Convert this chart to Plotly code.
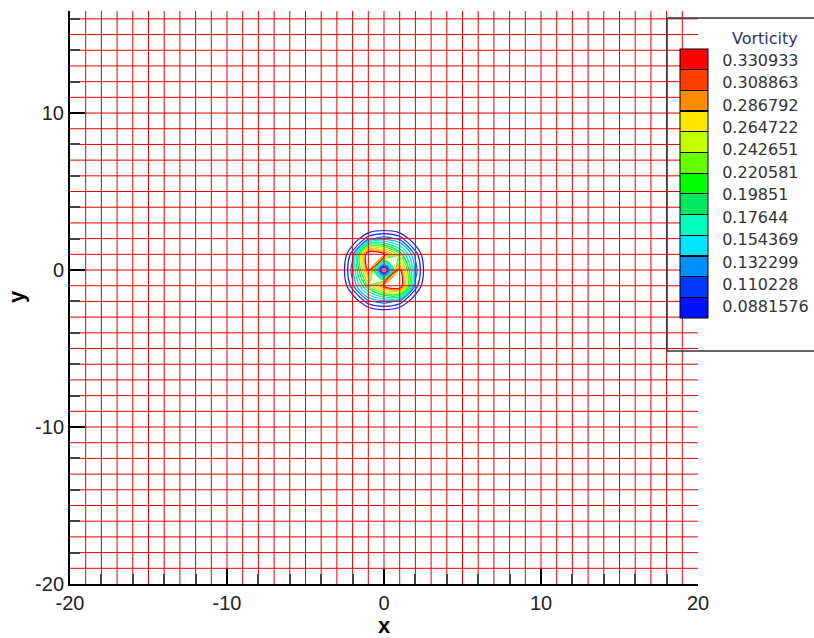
import plotly.graph_objects as go

# ---------------- data ----------------
# vorticity sampled on mesh nodes x,y = -4..4 (rows: y from -4 to 4)
node_x = [-4, -3, -2, -1, 0, 1, 2, 3, 4]
node_y = [-4, -3, -2, -1, 0, 1, 2, 3, 4]
vorticity = [
    [0, 0.000, 0.000, 0.000, 0.000, 0.000, 0.000, 0.000, 0],
    [0, 0.000, 0.010, 0.025, 0.035, 0.025, 0.010, 0.000, 0],
    [0, 0.010, 0.060, 0.125, 0.145, 0.125, 0.060, 0.010, 0],
    [0, 0.025, 0.125, 0.240, 0.335, 0.370, 0.125, 0.025, 0],
    [0, 0.035, 0.145, 0.335, 0.030, 0.335, 0.145, 0.035, 0],
    [0, 0.025, 0.125, 0.370, 0.335, 0.240, 0.125, 0.025, 0],
    [0, 0.010, 0.060, 0.125, 0.145, 0.125, 0.060, 0.010, 0],
    [0, 0.000, 0.010, 0.025, 0.035, 0.025, 0.010, 0.000, 0],
    [0, 0.000, 0.000, 0.000, 0.000, 0.000, 0.000, 0.000, 0],
]

# contour levels and their legend labels
levels = [0.0881576, 0.110228, 0.132299, 0.154369, 0.17644, 0.19851,
          0.220581, 0.242651, 0.264722, 0.286792, 0.308863, 0.330933]
level_labels = ["0.0881576", "0.110228", "0.132299", "0.154369", "0.17644", "0.19851",
                "0.220581", "0.242651", "0.264722", "0.286792", "0.308863", "0.330933"]
level_start = 0.0881576
level_step = 0.0220705
level_end = 0.3309331

# computational mesh lines
mesh_x_lines = list(range(-19, 20))
mesh_y_lines = list(range(-19, 20))
mesh_extent = [-20, 20]

x_ticks = [-20, -10, 0, 10, 20]
x_tick_text = ["-20", "-10", "0", "10", "20"]
y_ticks = [-20, -10, 0, 10]
y_tick_text = ["-20", "-10", "0", "10"]

# ---------------- styles ----------------
band_colors = ["#0010ff", "#0038ff", "#0090ff", "#00e5ff", "#00ffbf", "#00e860",
               "#00ff00", "#66ff00", "#c0ff00", "#ffe600", "#ff8c00", "#ff4000", "#ff0000"]
line_colors = ["#1818ff", "#0040ff", "#0090ff", "#00d8ff", "#00ffc0", "#00f070",
               "#10ff00", "#80ff00", "#d8f000", "#ffc000", "#ff7000", "#ff0000"]
FONT = "Liberation Sans, Arial, sans-serif"
LEGFONT = "DejaVu Sans, sans-serif"

# plot area in pixels
L, R, T, B = 70, 698, 11, 584
PW, PH = R - L, B - T


def px_x(p):
    return (p - L) / PW


def px_y(p):
    return (B - p) / PH


# colorscale for contour lines (plotly maps level k to (k+0.5)/(n-1))
n = len(levels)
line_cs = [[0.0, line_colors[0]]]
for k in range(n - 1):
    line_cs.append([(k + 0.5) / (n - 1), line_colors[k]])
line_cs.append([1.0, line_colors[-1]])

# stepped colorscale for legend bar with black separators
nb = len(band_colors)
e = 0.0022
bar_cs = [[0.0, band_colors[0]]]
for j in range(1, nb):
    b = j / nb
    bar_cs += [[b - e, band_colors[j - 1]], [b - e, "black"], [b + e, "black"], [b + e, band_colors[j]]]
bar_cs.append([1.0, band_colors[-1]])

fig = go.Figure()

fig.add_trace(go.Contour(
    x=node_x, y=node_y, z=vorticity,
    contours=dict(start=level_start, end=level_end, size=level_step,
                  coloring="lines", showlabels=False),
    colorscale=line_cs, showscale=False,
    line=dict(width=1.2), hoverinfo="skip",
))

# mesh
mx, my = [], []
for xv in mesh_x_lines:
    mx += [xv, xv, None]
    my += [mesh_extent[0], mesh_extent[1], None]
for yv in mesh_y_lines:
    mx += [mesh_extent[0], mesh_extent[1], None]
    my += [yv, yv, None]
fig.add_trace(go.Scatter(x=mx, y=my, mode="lines",
                         line=dict(color="rgb(225,0,0)", width=1),
                         hoverinfo="skip", showlegend=False))

# legend color bar
fig.add_trace(go.Scatter(
    x=[None], y=[None], mode="markers", showlegend=False,
    marker=dict(color=[levels[0]], colorscale=bar_cs,
                cmin=level_start - level_step / 2, cmax=level_end + level_step / 2,
                showscale=True,
                colorbar=dict(
                    thickness=28, thicknessmode="pixels",
                    len=269, lenmode="pixels",
                    x=px_x(680), xanchor="left", xpad=0,
                    y=px_y(49), yanchor="top", ypad=0,
                    outlinewidth=1, outlinecolor="black",
                    tickvals=levels, ticktext=level_labels,
                    ticks="outside", ticklen=11, tickcolor="rgba(0,0,0,0)",
                    tickfont=dict(family=LEGFONT, size=16, color="#333333"),
                ))))

axis_common = dict(
    ticks="inside", ticklen=15, tickwidth=2, tickcolor="black",
    showline=True, linecolor="black", linewidth=2, mirror=False,
    showgrid=False, zeroline=False,
    tickfont=dict(family=FONT, size=20, color="#222222"),
    minor=dict(ticks="inside", ticklen=10, tickwidth=1.5, tickcolor="#444444", dtick=2, showgrid=False),
)

fig.update_layout(
    width=814, height=638,
    margin=dict(l=L, r=814 - R, t=T, b=638 - B, pad=0, autoexpand=False),
    paper_bgcolor="white", plot_bgcolor="white",
    showlegend=False,
    xaxis=dict(range=mesh_extent, tickvals=x_ticks, ticktext=x_tick_text, **axis_common),
    yaxis=dict(range=[-20, 16.5], tickvals=y_ticks, ticktext=y_tick_text, **axis_common),
    shapes=[dict(type="rect", xref="paper", yref="paper",
                 x0=px_x(667), x1=px_x(830), y0=px_y(351), y1=px_y(18),
                 line=dict(color="#333333", width=1.5), fillcolor="rgba(0,0,0,0)", layer="above")],
    annotations=[
        dict(text="<b>x</b>", xref="paper", yref="paper", x=0.5, y=px_y(625),
             xanchor="center", yanchor="middle",
             showarrow=False, font=dict(family=FONT, size=22, color="black")),
        dict(text="<b>y</b>", xref="paper", yref="paper", x=px_x(16), y=px_y(297),
             xanchor="center", yanchor="middle",
             showarrow=False, textangle=-90, font=dict(family=FONT, size=22, color="black")),
        dict(text="Vorticity", xref="paper", yref="paper", x=px_x(765), y=px_y(39),
             xanchor="center", yanchor="middle",
             showarrow=False, font=dict(family=LEGFONT, size=16, color="#333366")),
    ],
)

fig.write_html("out.html")
